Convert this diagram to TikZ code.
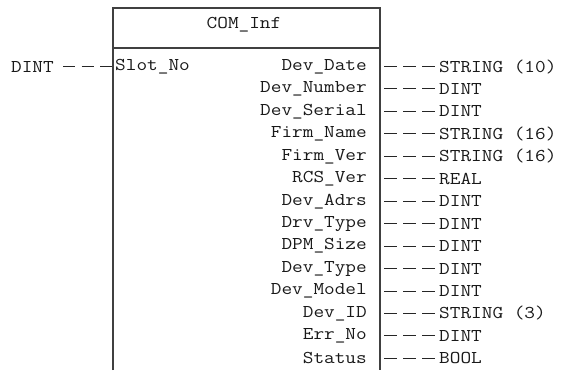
\documentclass[tikz,border=0pt]{standalone}
\usepackage{fontspec}
\newfontfamily\blockfont{Latin Modern Mono}[FakeStretch=1.15]
\begin{document}
\begin{tikzpicture}[x=1pt,y=-1pt,
  every node/.style={font=\blockfont\fontsize{18}{20}\selectfont, inner sep=0pt, text=black!90},
  frame/.style={draw=black!75, line width=1.3pt},
  pin/.style={draw=black!85, line width=1pt, dash pattern=on 13pt off 6pt},
  inlbl/.style={anchor=west},
  outlbl/.style={anchor=east},
  typelbl/.style={anchor=west}]
\useasboundingbox (0,0) rectangle (565,370);

% block frame (open at the bottom)
\coordinate (tl) at (113,8);
\coordinate (tr) at (380,8);
\coordinate (bl) at (113,370);
\coordinate (br) at (380,370);
\draw[frame] (bl) -- (tl) -- (tr) -- (br);
\draw[frame] (113,48) -- (380,48);
\node (title) at (244,25) {COM\_Inf};

% input
\node[inlbl] (slot) at (115,66.5) {Slot\_No};
\node[anchor=east] (intype) at (54,66.5) {DINT};
\coordinate (slotin) at (113,66.5);
\draw[pin, dash pattern=on 12pt off 6.5pt] ([xshift=9pt]intype.east) -- (slotin);

% outputs
\foreach \i/\nm/\ty in {
  0/Dev\_Date/STRING (10),
  1/Dev\_Number/DINT,
  2/Dev\_Serial/DINT,
  3/Firm\_Name/STRING (16),
  4/Firm\_Ver/STRING (16),
  5/RCS\_Ver/REAL,
  6/Dev\_Adrs/DINT,
  7/Drv\_Type/DINT,
  8/DPM\_Size/DINT,
  9/Dev\_Type/DINT,
  10/Dev\_Model/DINT,
  11/Dev\_ID/STRING (3),
  12/Err\_No/DINT,
  13/Status/BOOL}{
  \pgfmathsetmacro{\yy}{66.5+22.45*\i}
  \node[outlbl] (out\i) at (367,\yy) {\nm};
  \coordinate (port\i) at (380,\yy);
  \node[typelbl] (type\i) at (439,\yy) {\ty};
  \draw[pin, dash phase=15pt] (port\i) -- ([xshift=-4pt]type\i.west);
}
\end{tikzpicture}
\end{document}
